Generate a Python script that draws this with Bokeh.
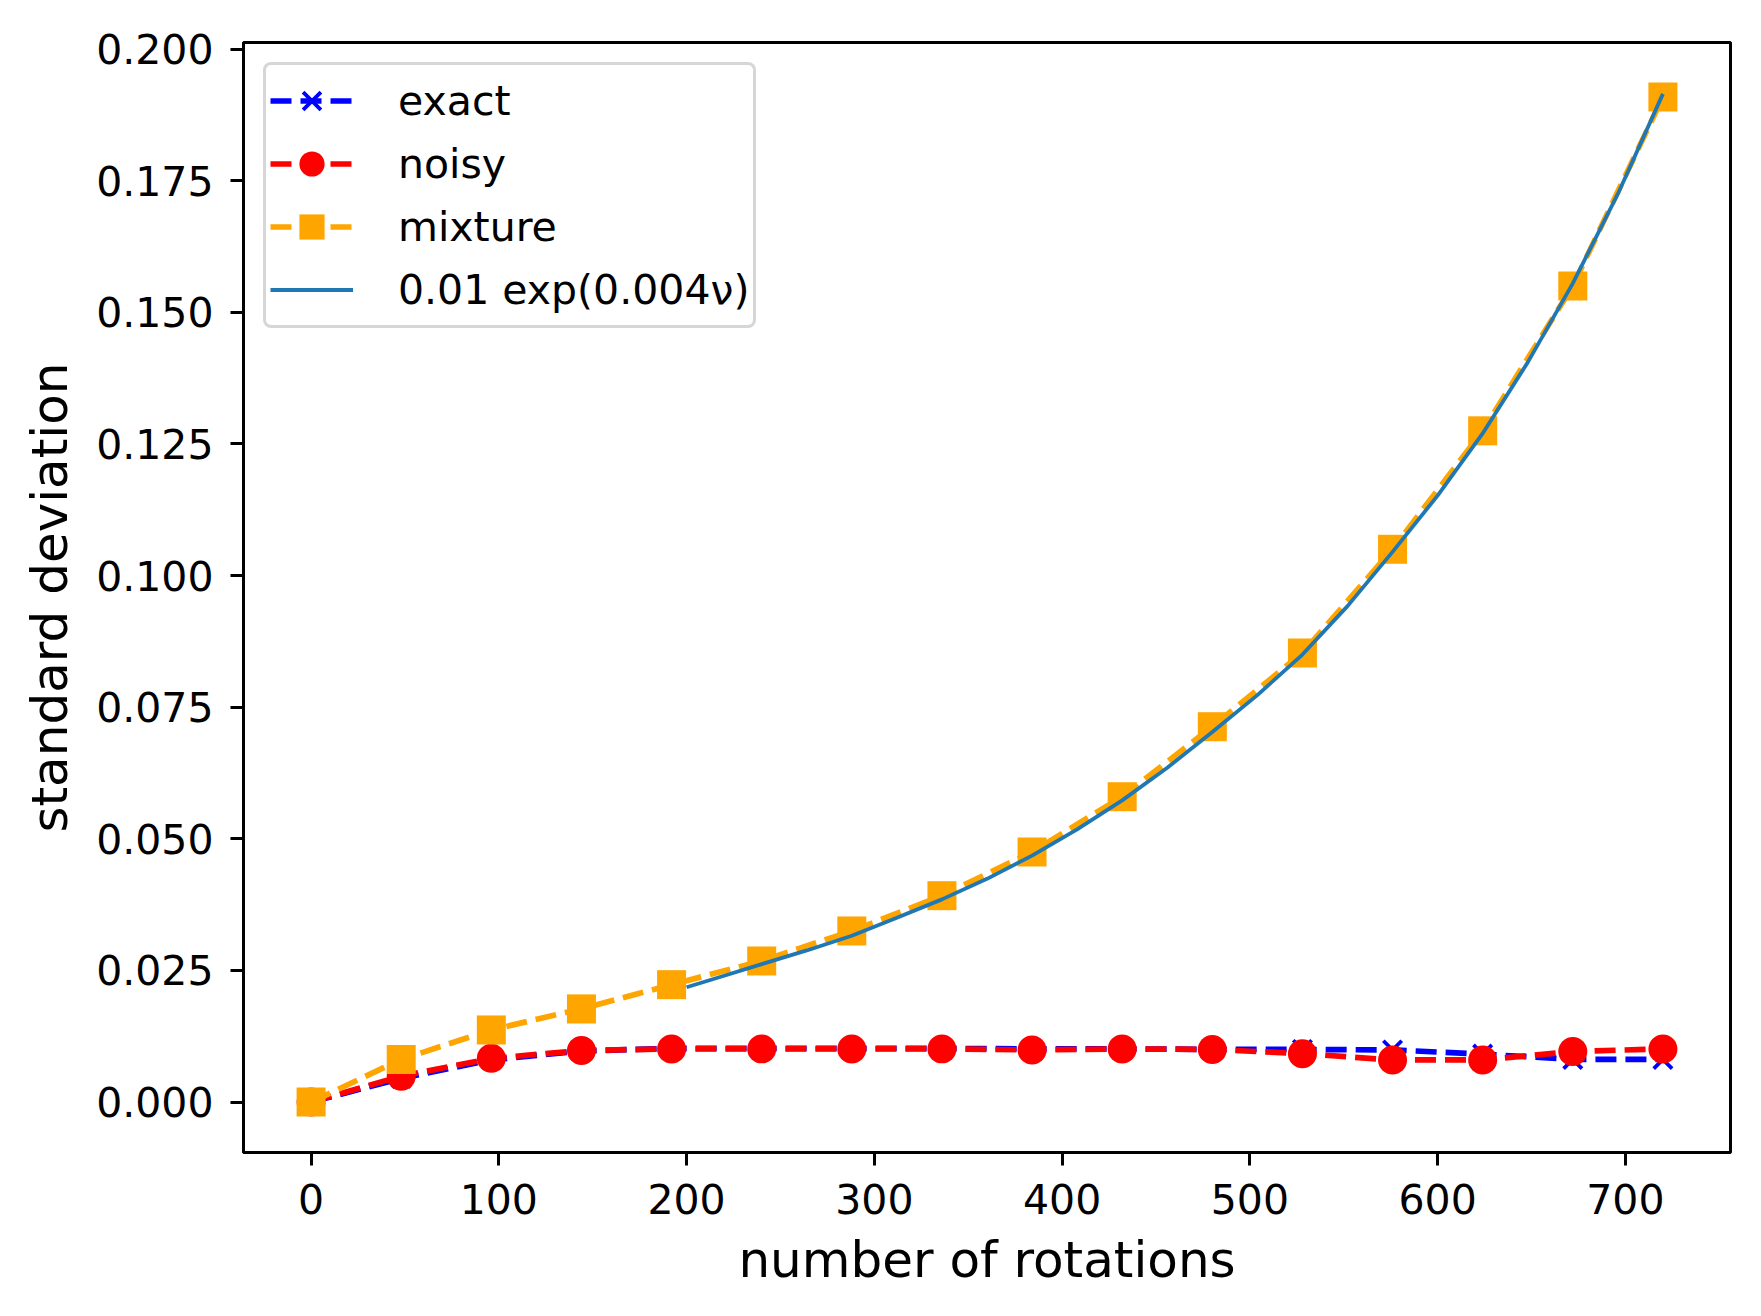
from bokeh.plotting import figure
from bokeh.models import Legend, LegendItem, FixedTicker, PrintfTickFormatter, Range1d
from bokeh.embed import file_html
from bokeh.resources import INLINE

# ---- data ----
rotations = [0, 48, 96, 144, 192, 240, 288, 336, 384, 432, 480, 528, 576, 624, 672, 720]
exact = [0.0, 0.0045, 0.0080, 0.0097, 0.0102, 0.0102, 0.0102, 0.0102, 0.0101, 0.0101,
         0.0100, 0.0100, 0.0099, 0.0091, 0.0081, 0.0081]
noisy = [0.0, 0.0049, 0.0083, 0.0098, 0.0101, 0.0101, 0.0101, 0.0101, 0.0099, 0.0101,
         0.0100, 0.0092, 0.0080, 0.0080, 0.0096, 0.0101]
mixture = [0.0, 0.0081, 0.0137, 0.0177, 0.0223, 0.0268, 0.0325, 0.0392, 0.0475, 0.0580,
           0.0713, 0.0853, 0.1050, 0.1275, 0.1550, 0.1909]
fit_x = [200, 220, 240, 264, 288, 312, 336, 360, 384, 408, 432, 456, 480, 504, 528,
         552, 576, 600, 624, 648, 672, 696, 720]
fit_y = [0.0218, 0.0240, 0.0262, 0.0288, 0.0316, 0.0350, 0.0385, 0.0424, 0.0468, 0.0518,
         0.0573, 0.0635, 0.0703, 0.0773, 0.0850, 0.0942, 0.1045, 0.1152, 0.1270, 0.1405,
         0.1555, 0.1725, 0.1915]
x_ticks = [0, 100, 200, 300, 400, 500, 600, 700]
y_ticks = [0.0, 0.025, 0.05, 0.075, 0.1, 0.125, 0.15, 0.175, 0.2]

FONT = "DejaVu Sans"

p = figure(frame_width=1487, frame_height=1110,
           x_range=Range1d(-36, 756), y_range=Range1d(-0.00958, 0.20126),
           output_backend="svg", toolbar_location=None, title=None,
           min_border_left=243, min_border_top=42, min_border_right=18,
           min_border_bottom=140)

p.xgrid.visible = False
p.ygrid.visible = False
p.outline_line_color = "black"
p.outline_line_width = 3
p.outline_line_alpha = 1.0
p.background_fill_color = "white"
p.border_fill_color = "white"

p.xaxis.ticker = FixedTicker(ticks=x_ticks)
p.yaxis.ticker = FixedTicker(ticks=y_ticks)
p.yaxis.formatter = PrintfTickFormatter(format="%.3f")
for ax in (p.xaxis, p.yaxis):
    ax.axis_line_width = 3
    ax.axis_line_color = "black"
    ax.major_tick_line_width = 3
    ax.major_tick_line_color = "black"
    ax.major_tick_out = 13
    ax.major_tick_in = 0
    ax.minor_tick_line_color = None
    ax.major_label_text_font = FONT
    ax.major_label_text_font_size = "41px"
    ax.major_label_text_color = "black"
    ax.axis_label_text_font = FONT
    ax.axis_label_text_font_size = "50px"
    ax.axis_label_text_font_style = "normal"
    ax.axis_label_text_color = "black"
p.xaxis.axis_label = "number of rotations"
p.yaxis.axis_label = "standard deviation"
p.xaxis.major_label_standoff = 18
p.yaxis.major_label_standoff = 17
p.xaxis.axis_label_standoff = 14
p.yaxis.axis_label_standoff = 14

DASH = "21 9"
l1 = p.line(rotations, exact, line_color="blue", line_width=5.7, line_dash=DASH)
s1 = p.scatter(rotations, exact, marker="x", size=26, line_color="blue", line_width=3.8)
l2 = p.line(rotations, noisy, line_color="red", line_width=5.7, line_dash=DASH)
s2 = p.scatter(rotations, noisy, marker="circle", size=29, fill_color="red", line_color="red", line_width=0)
l3 = p.line(rotations, mixture, line_color="orange", line_width=5.7, line_dash=DASH)
s3 = p.scatter(rotations, mixture, marker="square", size=29, fill_color="orange", line_color="orange", line_width=0)
l4 = p.line(fit_x, fit_y, line_color="#1f77b4", line_width=3.8)

legend = Legend(items=[
    LegendItem(label="exact", renderers=[l1, s1]),
    LegendItem(label="noisy", renderers=[l2, s2]),
    LegendItem(label="mixture", renderers=[l3, s3]),
    LegendItem(label="0.01 exp(0.004\u03bd)", renderers=[l4]),
], location="top_left")
legend.margin = 20
legend.padding = 4
legend.spacing = 0
legend.glyph_width = 83
legend.glyph_height = 63
legend.label_height = 40
legend.label_standoff = 45
legend.label_text_font = FONT
legend.label_text_font_size = "41px"
legend.label_text_color = "black"
legend.border_line_color = "#cccccc"
legend.border_line_width = 3
legend.border_line_alpha = 0.8
legend.border_radius = 8
legend.background_fill_alpha = 0.8
p.add_layout(legend)

open("out.html", "w").write(file_html(p, INLINE))
